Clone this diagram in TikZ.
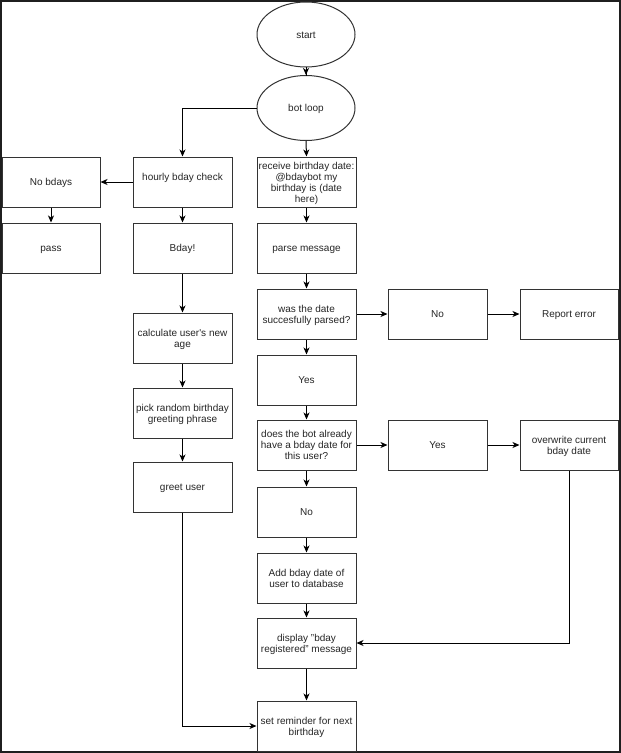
\documentclass[tikz,border=0pt]{standalone}
\usepackage{fontspec}
\setmainfont{Liberation Sans}
\usetikzlibrary{arrows.meta,shapes.geometric,calc}
\definecolor{frame}{HTML}{1F1F1F}
\definecolor{edge}{HTML}{333333}
\newcommand\bt[2][-4pt]{\raisebox{#1}[0pt][0pt]{\begin{tabular}{@{}c@{}}#2\end{tabular}}}
\begin{document}
\begin{tikzpicture}[x=1pt,y=-1pt,
  box/.style={draw=edge,line width=1pt,fill=white,rectangle,minimum width=99pt,minimum height=50pt,inner sep=0pt,font=\fontsize{10}{11}\selectfont,text=black!85},
  oval/.style={draw=edge,line width=1pt,fill=white,ellipse,minimum width=98pt,minimum height=65pt,inner sep=0pt,font=\fontsize{10}{11}\selectfont,text=black!85},
  arr/.style={draw=black,line width=1pt,-{Stealth[length=7pt,width=6pt,inset=2pt]}},
  plain/.style={draw=black,line width=1pt}]
\useasboundingbox (0,0) rectangle (621,753);
\draw[frame,line width=2pt] (1,1) rectangle (620,752);
% nodes
\node[oval] (start) at (306,34.5) {\bt{start}};
\node[oval] (bot) at (306,108) {\bt{bot loop}};
\node[box,minimum width=98pt] (nob) at (51,182) {\bt{No bdays}};
\node[box] (hourly) at (182.5,182) {\bt[1pt]{hourly bday check}};
\node[box] (recv) at (306.5,182) {\bt{receive birthday date:\\@bdaybot my\\birthday is (date\\here)}};
\node[box,minimum width=98pt] (pass) at (51,248) {\bt{pass}};
\node[box] (bday) at (182.5,248) {\bt{Bday!}};
\node[box] (parse) at (306.5,248) {\bt{parse message}};
\node[box] (was) at (306.5,314) {\bt{was the date\\succesfully parsed?}};
\node[box] (no1) at (437.5,314) {\bt{No}};
\node[box,minimum width=98pt] (err) at (569,314) {\bt{Report error}};
\node[box] (yes1) at (306.5,380) {\bt{Yes}};
\node[box] (does) at (306.5,445) {\bt{does the bot already\\have a bday date for\\this user?}};
\node[box] (yes2) at (437.5,445) {\bt{Yes}};
\node[box,minimum width=98pt] (over) at (569,445) {\bt{overwrite current\\bday date}};
\node[box] (no2) at (306.5,512) {\bt{No}};
\node[box] (add) at (306.5,578) {\bt{Add bday date of\\user to database}};
\node[box] (disp) at (306.5,643) {\bt{display "bday\\registered" message}};
\node[box] (rem) at (306.5,726) {\bt{set reminder for next\\birthday}};
\node[box] (calc) at (182.5,338) {\bt{calculate user\textquotesingle s new\\age}};
\node[box] (pick) at (182.5,413) {\bt{pick random birthday\\greeting phrase}};
\node[box] (greet) at (182.5,487) {\bt{greet user}};
% connectors
\draw[plain] ($(start.south)+(0,8)$) -- ($(bot.north)+(0,-8)$);
\draw[arr] (start.south) -- (bot.north);
\draw[arr] (bot.west) -| (hourly.north);
\draw[arr] (bot.south) -- (recv.north);
\draw[arr] (hourly.west) -- (nob.east);
\draw[arr] (nob.south) -- (pass.north);
\draw[arr] (hourly.south) -- (bday.north);
\draw[arr] (bday.south) -- (calc.north);
\draw[arr] (calc.south) -- (pick.north);
\draw[arr] (pick.south) -- (greet.north);
\draw[arr] (greet.south) |- (rem.west);
\draw[arr] (recv.south) -- (parse.north);
\draw[arr] (parse.south) -- (was.north);
\draw[arr] (was.south) -- (yes1.north);
\draw[arr] (yes1.south) -- (does.north);
\draw[arr] (does.south) -- (no2.north);
\draw[arr] (no2.south) -- (add.north);
\draw[arr] (add.south) -- (disp.north);
\draw[arr] (disp.south) -- (rem.north);
\draw[arr] (was.east) -- (no1.west);
\draw[arr] (no1.east) -- (err.west);
\draw[arr] (does.east) -- (yes2.west);
\draw[arr] (yes2.east) -- (over.west);
\draw[arr] (over.south) |- (disp.east);
\end{tikzpicture}
\end{document}
